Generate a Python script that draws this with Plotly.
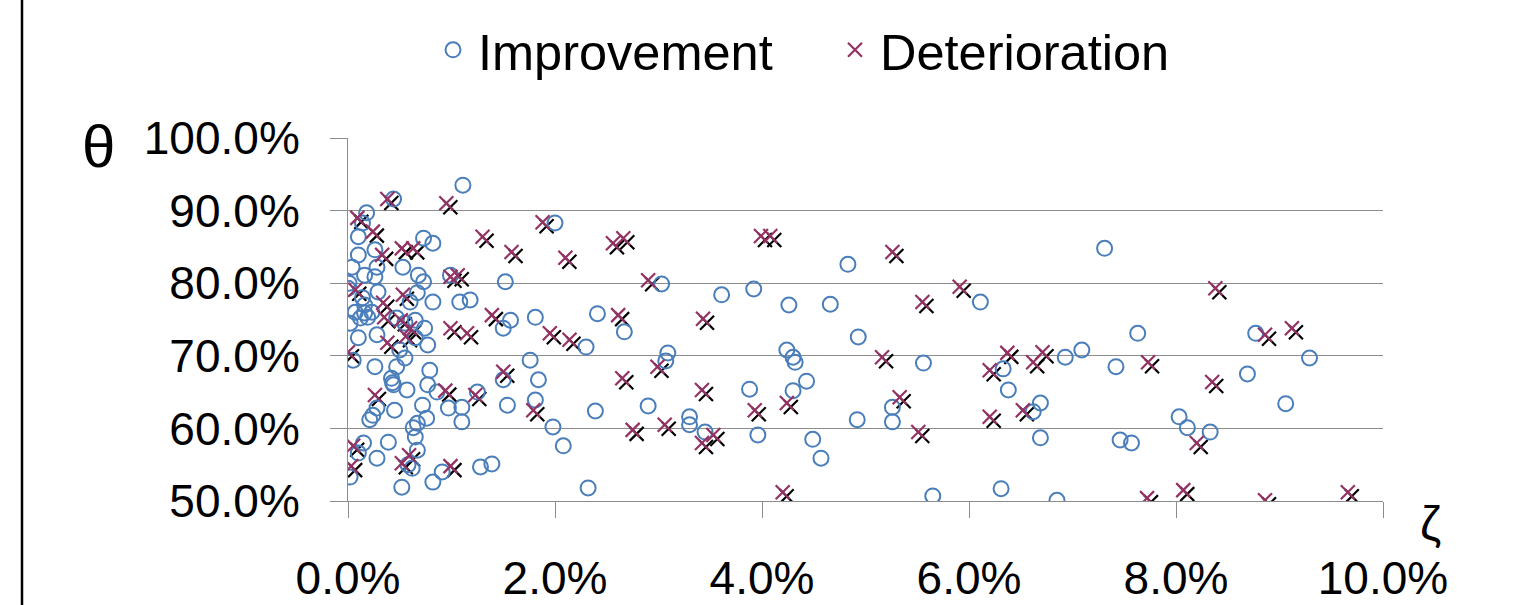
import plotly.graph_objects as go

# ---- data (zeta %, theta %) ----
imp_x = [0.44,0.18,0.14,0.10,0.10,0.04,0.26,0.16,0.26,0.28,0.53,0.73,0.82,0.68,0.73,0.01,0.00,0.29,0.67,0.60,
         0.82,0.99,1.08,1.18,0.14,0.16,0.07,0.16,0.19,0.23,0.12,0.02,0.47,0.55,0.65,0.28,0.10,0.74,0.65,0.77,
         0.50,0.55,0.05,0.26,0.47,0.79,0.42,0.43,0.44,0.77,0.57,0.86,1.25,0.97,1.10,1.10,0.72,0.76,0.67,0.63,
         0.45,0.28,0.24,0.21,0.65,0.67,0.15,0.39,0.10,0.28,0.02,0.58,0.62,0.52,0.91,0.82,1.28,1.39,1.50,1.84,
         1.81,1.54,1.98,2.08,2.32,1.52,1.57,1.50,1.81,1.76,2.00,1.11,3.03,3.61,3.92,4.26,4.66,4.83,2.41,2.67,
         2.30,3.09,3.07,4.24,4.30,4.32,4.93,4.43,4.30,3.88,4.92,2.39,2.90,3.30,3.30,3.45,3.96,4.49,4.57,7.31,
         6.11,7.09,6.93,5.56,6.33,6.38,7.42,6.69,6.62,5.26,5.26,6.69,7.46,7.57,5.65,6.31,6.85,7.63,8.77,9.29,
         8.69,9.06,8.03,8.11,8.33]
imp_y = [91.6,89.7,88.3,86.4,83.9,82.2,84.6,81.1,80.9,82.2,82.2,86.2,85.5,81.1,80.2,80.0,79.3,78.8,78.7,77.4,
         77.4,81.1,77.4,77.7,78.0,77.0,76.0,75.9,75.3,76.0,75.2,74.5,75.2,74.5,74.9,72.9,72.5,73.8,72.5,71.5,
         70.8,69.7,69.4,68.5,68.5,68.0,66.9,66.3,66.0,66.0,65.3,65.0,65.0,62.8,62.9,60.9,63.2,61.4,60.7,60.1,
         62.5,62.8,61.8,61.2,58.8,57.0,58.0,58.1,56.6,55.9,53.3,55.0,54.5,51.9,54.0,52.6,54.7,55.1,66.7,66.7,
         63.9,63.2,60.2,57.6,51.8,80.2,74.9,73.8,75.3,69.4,88.3,93.5,79.9,78.4,79.2,77.0,77.1,82.6,75.8,73.3,
         71.2,70.4,69.3,70.8,69.8,69.1,72.6,66.5,65.2,65.4,61.2,62.4,63.1,61.6,60.5,59.5,59.1,58.5,55.9,84.8,
         77.4,70.8,69.8,69.0,68.2,65.3,68.5,63.5,62.3,62.9,60.9,58.7,58.4,58.0,50.7,51.7,50.1,73.1,73.1,69.7,
         67.5,63.4,61.6,60.1,59.5]

det_x = [0.09,0.38,0.95,0.24,1.30,1.58,1.88,2.10,2.56,2.66,3.99,4.08,2.90,2.61,3.43,0.33,0.52,0.63,0.99,1.06,
         0.07,0.34,0.53,0.35,0.51,0.60,0.38,0.56,0.99,1.15,0.00,1.39,1.95,2.14,1.50,0.26,0.94,1.23,1.79,0.05,
         0.03,0.59,0.52,0.99,2.65,2.99,3.42,2.75,3.06,3.42,3.53,3.93,4.24,4.20,5.26,5.55,5.91,5.16,5.33,5.51,
         6.37,6.20,6.71,6.62,6.20,6.52,8.38,7.73,8.86,9.12,8.35,8.20,7.72,8.07,8.86,9.66]
det_y = [89.0,91.6,91.0,87.1,86.4,84.3,88.4,83.5,85.5,86.2,86.5,86.5,80.4,75.6,75.1,83.9,84.8,84.8,80.9,81.1,
         79.1,77.3,78.4,75.3,74.9,73.8,71.8,72.7,73.8,73.1,70.5,75.6,73.1,72.2,67.8,64.6,65.2,64.6,62.5,57.6,
         54.8,56.3,55.2,54.8,66.9,68.5,65.3,59.8,60.5,58.0,59.1,62.5,63.5,51.2,84.3,77.4,79.5,69.8,64.3,59.5,
         70.4,68.0,70.5,69.1,61.6,62.5,79.3,69.1,72.9,73.8,66.4,58.0,50.4,51.5,50.1,51.2]

x_ticks = [0, 2, 4, 6, 8, 10]
y_ticks = [50, 60, 70, 80, 90, 100]
x_labels = [f"{v:.1f}%" for v in x_ticks]
y_labels = [f"{v:.1f}%" for v in y_ticks]
x_range = [0, 10]
y_range = [50, 100]

# ---- layout geometry ----
W, H = 1514, 605
L, R, T, B = 348, 131, 138, 104
pw, ph = W - L - R, H - T - B
# shadow offset in pixels
sdx, sdy = 4, 4
x_shift = sdx * (x_range[1] - x_range[0]) / pw
y_shift = sdy * (y_range[1] - y_range[0]) / ph

FONT = "Liberation Sans, Arial, sans-serif"
GRID = "#8c8c8c"
BLUE = "#4a7ebb"
PURPLE = "#953264"

def px_x(p):
    return (p - L) / pw

def px_y(p):
    return (H - B - p) / ph

fig = go.Figure()

# black offset crosses (drawn first, on hidden base axes shifted by range)
fig.add_trace(go.Scatter(
    x=det_x, y=det_y, mode="markers", showlegend=False, hoverinfo="skip",
    marker=dict(symbol="x-thin-open", size=14, color="black", line=dict(color="black", width=2.2)),
    xaxis="x", yaxis="y"))

fig.add_trace(go.Scatter(
    x=imp_x, y=imp_y, mode="markers", name="Improvement", legend="legend",
    marker=dict(symbol="circle-open", size=15, line=dict(color=BLUE, width=2), color=BLUE),
    xaxis="x2", yaxis="y2"))

fig.add_trace(go.Scatter(
    x=det_x, y=det_y, mode="markers", name="Deterioration", legend="legend2",
    marker=dict(symbol="x-thin-open", size=14, line=dict(color=PURPLE, width=2.2), color=PURPLE),
    xaxis="x2", yaxis="y2"))

axis_common = dict(zeroline=False, automargin=False, showline=True, linecolor=GRID, linewidth=1,
                   ticks="outside", tickcolor=GRID, tickwidth=1,
                   tickfont=dict(size=46, family=FONT, color="black"))

fig.update_layout(
    width=W, height=H,
    margin=dict(l=L, r=R, t=T, b=B, pad=0, autoexpand=False),
    paper_bgcolor="white", plot_bgcolor="white",
    font=dict(family=FONT, color="black", size=46),
    showlegend=True,
    legend=dict(orientation="h", x=px_x(428), xanchor="left",
                y=px_y(50), yanchor="middle", itemwidth=40,
                font=dict(size=50.5, family=FONT), bgcolor="rgba(0,0,0,0)"),
    legend2=dict(orientation="h", x=px_x(830), xanchor="left",
                 y=px_y(50), yanchor="middle", itemwidth=40,
                 font=dict(size=50.5, family=FONT), bgcolor="rgba(0,0,0,0)"),
    xaxis=dict(range=[x_range[0] - x_shift, x_range[1] - x_shift],
               visible=False, showgrid=False, zeroline=False, automargin=False),
    yaxis=dict(range=[y_range[0] + y_shift, y_range[1] + y_shift],
               visible=False, showgrid=False, zeroline=False, automargin=False),
    xaxis2=dict(range=x_range, overlaying="x", anchor="y2", side="bottom",
                tickvals=x_ticks, ticktext=x_labels, showgrid=False,
                ticklen=16, ticklabelstandoff=21, **axis_common),
    yaxis2=dict(range=y_range, overlaying="y", anchor="x2", side="left",
                tickvals=y_ticks, ticktext=y_labels,
                showgrid=True, gridcolor=GRID, gridwidth=1,
                ticklen=17, ticklabelstandoff=21, **axis_common),
)

# left border line of the chart frame
fig.add_shape(type="line", xref="paper", yref="paper",
              x0=px_x(22), x1=px_x(22), y0=px_y(H), y1=px_y(0),
              line=dict(color="black", width=2.5))

fig.add_annotation(text="θ", xref="paper", yref="paper",
                   x=px_x(98), y=px_y(146), showarrow=False,
                   font=dict(size=60, family=FONT, color="black"),
                   xanchor="center", yanchor="middle")
fig.add_annotation(text="ζ", xref="paper", yref="paper",
                   x=px_x(1430), y=px_y(523), showarrow=False,
                   font=dict(size=48, family=FONT, color="black"),
                   xanchor="center", yanchor="middle")

fig.write_html("out.html")
